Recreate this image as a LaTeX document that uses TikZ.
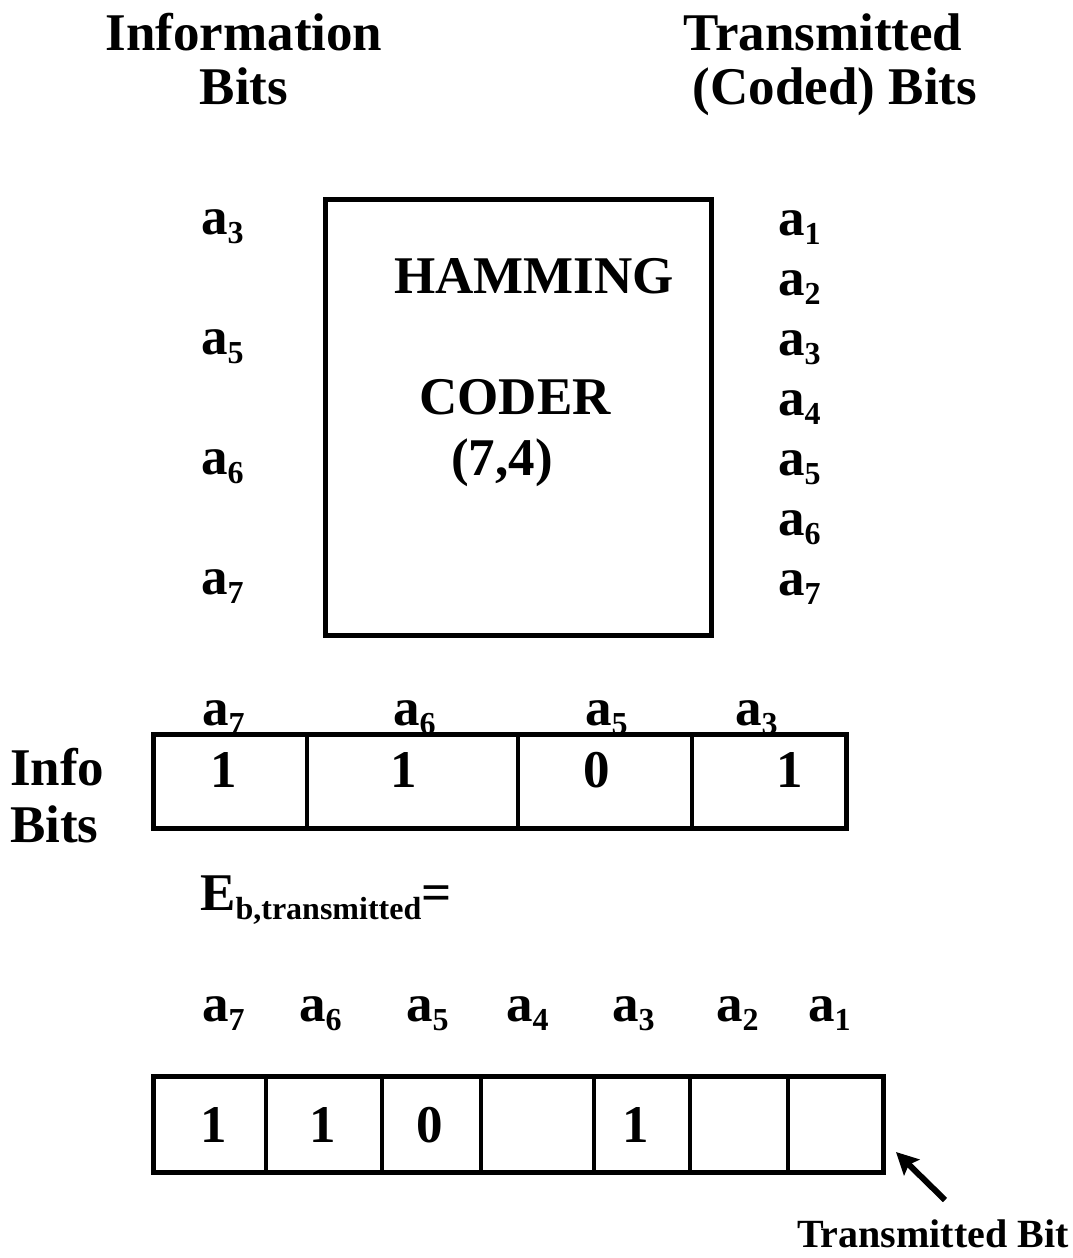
\documentclass[tikz,border=0pt]{standalone}
\usepackage{fontspec}
\usetikzlibrary{arrows.meta}
\setmainfont{Liberation Serif}
\newcommand\lowsub[1]{\raisebox{-9pt}{\fontsize{32}{32}\selectfont #1}}
\begin{document}
\begin{tikzpicture}[x=1pt,y=-1pt,
  big/.style={font=\fontsize{53}{60}\selectfont\bfseries, inner sep=0pt},
  lbl/.style={big, anchor=base west},
  ctr/.style={big, anchor=base},
  small/.style={font=\fontsize{40}{46}\selectfont\bfseries, inner sep=0pt, anchor=base},
  boxline/.style={line width=5pt, line cap=rect},
  cellline/.style={line width=4pt}]
\useasboundingbox (0,0) rectangle (1073,1258);
% titles
\node[ctr] (t1) at (244,50) {Information};
\node[ctr] (t2) at (244,104) {Bits};
\node[ctr] (t3) at (823,50) {Transmitted};
\node[ctr] (t4) at (835,104) {(Coded) Bits};
% coder box
\draw[boxline] (325,199) rectangle (711,635);
\node[ctr] (h1) at (534,293) {HAMMING};
\node[ctr] (h2) at (515,414) {CODER};
\node[ctr] (h3) at (502,475) {(7,4)};
% left labels
\node[lbl] (l3) at (201,234) {a\lowsub{3}};
\node[lbl] (l5) at (201,354) {a\lowsub{5}};
\node[lbl] (l6) at (201,474) {a\lowsub{6}};
\node[lbl] (l7) at (201,594) {a\lowsub{7}};
% right labels
\foreach \i in {1,...,7}{
  \node[lbl] (r\i) at (778,{175+60*\i}) {a\lowsub{\i}};
}
% info bits row
\node[lbl] (i7) at (202,725) {a\lowsub{7}};
\node[lbl] (i6) at (393,725) {a\lowsub{6}};
\node[lbl] (i5) at (585,725) {a\lowsub{5}};
\node[lbl] (i3) at (735,725) {a\lowsub{3}};
\draw[boxline] (153,734) rectangle (846,828);
\foreach \x in {307,518,692} \draw[cellline] (\x,734) -- (\x,828);
\node[ctr] (d1) at (224,787) {1};
\node[ctr] (d2) at (404,787) {1};
\node[ctr] (d3) at (597,787) {0};
\node[ctr] (d4) at (790,787) {1};
\node[lbl] (ib1) at (10,785) {Info};
\node[lbl] (ib2) at (10,842) {Bits};
% energy
\node[lbl] (eb) at (200,910) {E\lowsub{b,transmitted}=};
% coded row labels
\node[lbl] (c7) at (202,1021) {a\lowsub{7}};
\node[lbl] (c6) at (299,1021) {a\lowsub{6}};
\node[lbl] (c5) at (406,1021) {a\lowsub{5}};
\node[lbl] (c4) at (506,1021) {a\lowsub{4}};
\node[lbl] (c3) at (612,1021) {a\lowsub{3}};
\node[lbl] (c2) at (716,1021) {a\lowsub{2}};
\node[lbl] (c1) at (808,1021) {a\lowsub{1}};
\draw[boxline] (153,1076) rectangle (883,1172);
\foreach \x in {266,382,481,594,690,788} \draw[cellline] (\x,1076) -- (\x,1172);
\coordinate (corner) at (896,1152);
\node[ctr] (e1) at (214,1142) {1};
\node[ctr] (e2) at (323,1142) {1};
\node[ctr] (e3) at (430,1142) {0};
\node[ctr] (e4) at (636,1142) {1};
% arrow
\node[small] (tb) at (933,1247) {Transmitted Bit};
\coordinate (tail) at (945,1200);
\draw[line width=6pt,-{Stealth[length=22pt,width=22pt,inset=4pt]}] (tail) -- (corner);
\end{tikzpicture}
\end{document}
